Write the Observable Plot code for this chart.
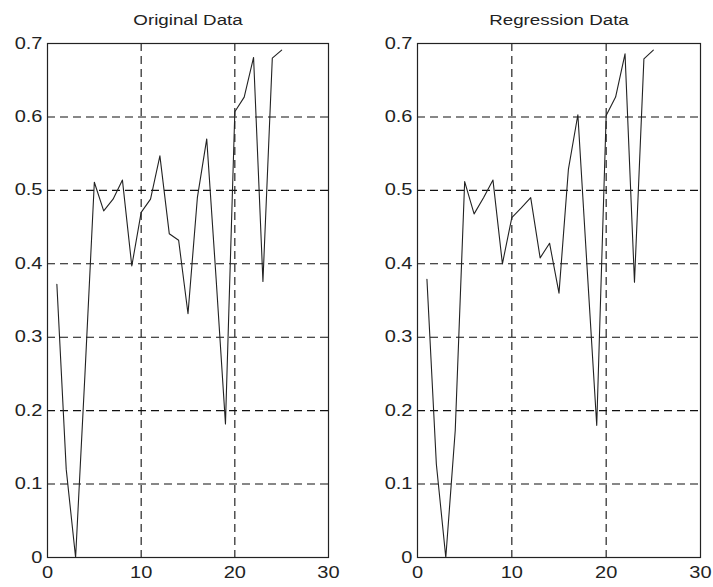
<!DOCTYPE html>
<html>
<head>
<meta charset="utf-8">
<script src="https://cdn.jsdelivr.net/npm/d3@7"></script>
<script src="https://cdn.jsdelivr.net/npm/@observablehq/plot@0.6"></script>
<style>
  html, body { margin: 0; padding: 0; background: #fff; }
  #chart { display: flex; width: 713px; height: 587px; }
</style>
</head>
<body>
<div id="chart"></div>
<script>
const xIndex = [1,2,3,4,5,6,7,8,9,10,11,12,13,14,15,16,17,18,19,20,21,22,23,24,25];
const originalValues = [0.372,0.12,0,0.25,0.511,0.472,0.488,0.514,0.397,0.47,0.488,0.547,0.441,0.432,0.332,0.49,0.57,0.38,0.182,0.607,0.627,0.681,0.376,0.68,0.691];
const regressionValues = [0.379,0.127,0,0.173,0.512,0.468,0.49,0.514,0.4,0.463,0.476,0.49,0.408,0.428,0.36,0.529,0.603,0.39,0.18,0.602,0.627,0.686,0.375,0.679,0.691];
const panelTitles = ["Original Data", "Regression Data"];
const xTicks = [0, 10, 20, 30];
const yTicks = [0, 0.1, 0.2, 0.3, 0.4, 0.5, 0.6, 0.7];
const xGrid = [10, 20];
const yGrid = [0.1, 0.2, 0.3, 0.4, 0.5, 0.6];

function panel(title, values, width, marginLeft, marginRight) {
  const data = xIndex.map((x, i) => ({x, y: values[i]}));
  const svg = Plot.plot({
    width, height: 587,
    marginTop: 43, marginBottom: 30, marginLeft, marginRight,
    x: {domain: [0, 30], label: null},
    y: {domain: [0, 0.7], label: null},
    style: {fontFamily: "'Liberation Sans', Arial, sans-serif", fontSize: "15px", color: "#222", background: "white", overflow: "visible"},
    marks: [
      Plot.ruleX(xGrid, {stroke: "#111", strokeDasharray: "8,5", strokeWidth: 1.1}),
      Plot.ruleY(yGrid, {stroke: "#111", strokeDasharray: "8,5", strokeWidth: 1.1}),
      Plot.axisX(xTicks, {tickSize: 0, tickPadding: 9, fontSize: 16, fill: "#222", label: null}),
      Plot.axisY(yTicks, {tickSize: 0, tickPadding: 5, fontSize: 16, fill: "#222", label: null, tickFormat: d => d === 0 ? "0" : d3.format(".1f")(d)}),
      Plot.line(data, {x: "x", y: "y", stroke: "#222", strokeWidth: 1.1}),
      Plot.frame({stroke: "#222", strokeWidth: 1.2}),
      Plot.text([title], {frameAnchor: "top", dy: -23, fontSize: 15, fill: "#222", lineAnchor: "middle"})
    ]
  });
  svg.querySelectorAll("text").forEach(t => {
    const tr = t.getAttribute("transform") || "";
    t.setAttribute("transform", tr + " scale(1.25,1)");
  });
  return svg;
}

const root = document.getElementById("chart");
root.append(panel(panelTitles[0], originalValues, 356, 47, 28));
root.append(panel(panelTitles[1], regressionValues, 357, 61, 13));
</script>
</body>
</html>
